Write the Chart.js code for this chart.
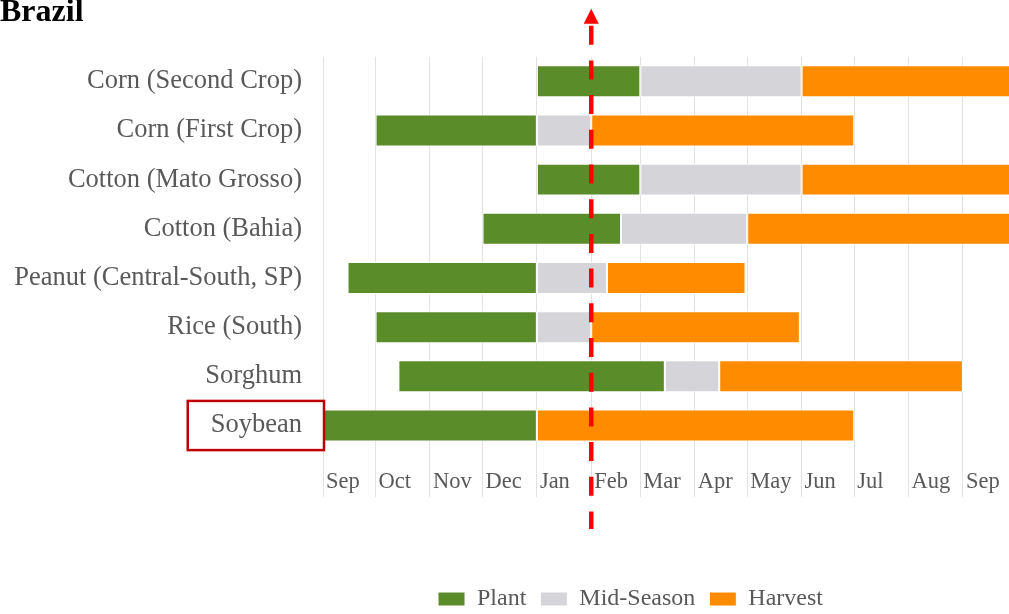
<!DOCTYPE html>
<html>
<head>
<meta charset="utf-8">
<script src="https://cdn.jsdelivr.net/npm/chart.js@4.4.0/dist/chart.umd.min.js"></script>
<style>
  html, body { margin: 0; padding: 0; background: #fff; }
</style>
</head>
<body>
<canvas id="chart" width="1009" height="614"></canvas>
<script>
// crop calendar, values are days counted from Sep 1
const crops = ['Corn (Second Crop)', 'Corn (First Crop)', 'Cotton (Mato Grosso)', 'Cotton (Bahia)',
  'Peanut (Central-South, SP)', 'Rice (South)', 'Sorghum', 'Soybean'];
const months = ['Sep', 'Oct', 'Nov', 'Dec', 'Jan', 'Feb', 'Mar', 'Apr', 'May', 'Jun', 'Jul', 'Aug', 'Sep'];
const monthDays = [30, 31, 30, 31, 31, 28, 31, 30, 31, 30, 31, 31, 30];

const plant     = [[122, 181], [30, 122], [122, 181], [91, 170], [14, 122], [30, 122], [43, 195], [0, 122]];
const midSeason = [[181, 273], [122, 153], [181, 273], [170, 242], [122, 162], [122, 153], [195, 226], null];
const harvest   = [[273, 394], [153, 303], [273, 394], [242, 394], [162, 241], [153, 272], [226, 365], [122, 303]];

const markerDay = 153;       // Feb 1
const highlighted = 'Soybean';

// month start offsets for the gridlines
const monthStarts = [0];
monthDays.slice(0, -1).forEach(d => monthStarts.push(monthStarts[monthStarts.length - 1] + d));

const serif = 'Liberation Serif';
const textGray = '#595959';
const rowFontSize = 26.5;

const overlay = {
  id: 'overlay',
  afterLayout(chart) {
    // legend sits off-centre in the original
    const shift = 126;
    chart.legend.left += shift;
    chart.legend.right += shift;
  },
  afterDraw(chart) {
    const ctx = chart.ctx;
    const area = chart.chartArea;
    const yScale = chart.scales.y;
    const xScale = chart.scales.x;

    // box around the highlighted row label
    const idx = crops.indexOf(highlighted);
    const cy = yScale.getPixelForValue(idx);
    const half = yScale.height / crops.length / 2;
    ctx.save();
    ctx.font = rowFontSize + 'px "' + serif + '"';
    const w = ctx.measureText(highlighted).width;
    const right = area.left + 1;
    const left = right - 21 - w - 24;
    ctx.strokeStyle = '#c00000';
    ctx.lineWidth = 2.5;
    ctx.strokeRect(left, cy - half, right - left, half * 2);

    // red dashed arrow at the marker date
    const x = xScale.getPixelForValue(markerDay);
    ctx.strokeStyle = '#ff0000';
    ctx.lineWidth = 4.5;
    ctx.setLineDash([19, 15.7]);
    ctx.beginPath();
    ctx.moveTo(x, area.top - 31);
    ctx.lineTo(x, area.bottom + 79);
    ctx.stroke();
    ctx.setLineDash([]);
    ctx.fillStyle = '#ff0000';
    ctx.beginPath();
    ctx.moveTo(x, area.top - 48);
    ctx.lineTo(x + 7.5, area.top - 33);
    ctx.lineTo(x - 7.5, area.top - 33);
    ctx.closePath();
    ctx.fill();
    ctx.restore();
  }
};

const barStyle = {
  borderWidth: 1,
  borderColor: '#ffffff',
  borderSkipped: false,
  grouped: false,
  barPercentage: 0.65,
  categoryPercentage: 1
};

new Chart(document.getElementById('chart'), {
  type: 'bar',
  data: {
    labels: crops,
    datasets: [
      { label: 'Plant', data: plant, backgroundColor: '#5b8c2a', ...barStyle },
      { label: 'Mid-Season', data: midSeason, backgroundColor: '#d5d4d8', ...barStyle },
      { label: 'Harvest', data: harvest, backgroundColor: '#ff8c00', ...barStyle }
    ]
  },
  options: {
    indexAxis: 'y',
    responsive: false,
    animation: false,
    layout: { padding: { left: 0, right: 0, top: 0, bottom: -7 } },
    scales: {
      x: {
        type: 'linear',
        min: 0,
        max: 391.3,
        afterBuildTicks: (axis) => {
          axis.ticks = monthStarts.map(v => ({ value: v }));
        },
        afterFit: (axis) => { axis.height = 122.9; },
        ticks: {
          callback: (value, index) => months[index],
          align: 'start',
          labelOffset: 3,
          padding: -28.3,
          maxRotation: 0,
          autoSkip: false,
          color: textGray,
          font: { family: serif, size: 22.5 }
        },
        grid: {
          color: '#e2e2e2',
          lineWidth: 1,
          drawTicks: true,
          tickLength: 47
        },
        border: { display: false }
      },
      y: {
        afterFit: (axis) => { axis.width = 323; },
        ticks: {
          padding: 21,
          color: textGray,
          font: { family: serif, size: rowFontSize }
        },
        grid: { display: false, drawTicks: false },
        border: { display: false }
      }
    },
    plugins: {
      title: {
        display: true,
        text: 'Brazil',
        align: 'start',
        color: '#000',
        font: { family: serif, size: 32, weight: 'bold', lineHeight: 0.775 },
        padding: { top: 0, bottom: 31.9 }
      },
      legend: {
        position: 'bottom',
        labels: {
          boxWidth: 27,
          boxHeight: 14,
          padding: 14,
          color: textGray,
          font: { family: serif, size: 24 }
        }
      },
      tooltip: { enabled: false }
    }
  },
  plugins: [overlay]
});
</script>
</body>
</html>
